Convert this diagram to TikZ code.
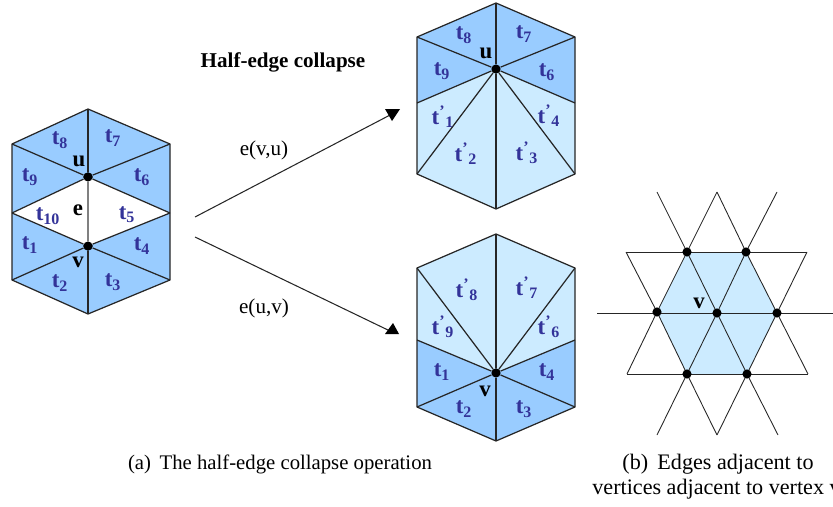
\documentclass[tikz,border=0pt]{standalone}
\usepackage{fontspec}
\setmainfont{Liberation Serif}
\usepackage{xcolor}
\usetikzlibrary{arrows.meta, positioning}
\definecolor{meshblue}{HTML}{99CCFF}
\definecolor{meshlight}{HTML}{CCEBFF}
\definecolor{labelblue}{HTML}{333399}
\newcommand{\tlab}[1]{\textbf{t}\textsubscript{\textbf{#1}}}
\newcommand{\tprm}[1]{\textbf{t}\textsuperscript{\textbf{'}}\textsubscript{\textbf{#1}}}

\begin{document}
\begin{tikzpicture}[x=0.02cm, y=-0.02cm,
    mesh/.style={draw=black!85, line width=0.7pt, line join=round},
    thin mesh/.style={draw=black!85, line width=0.5pt},
    vdot/.style={circle, fill=black, inner sep=0pt, minimum size=5.2pt},
    tri/.style={text=labelblue, font=\fontsize{13}{14}\selectfont, inner sep=0pt},
    vlab/.style={font=\fontsize{13}{14}\selectfont\bfseries, inner sep=0pt},
    plain/.style={font=\fontsize{12}{14}\selectfont, inner sep=0pt},
    link/.style={line width=0.6pt, black!85},
]
    \useasboundingbox (0,0) rectangle (833,507);

    % left hexagon
    \coordinate (la) at (88,109);
    \coordinate (lb) at (170,144);
    \coordinate (lc) at (170,213);
    \coordinate (ld) at (170,280);
    \coordinate (le) at (88,314);
    \coordinate (lf) at (12,280);
    \coordinate (lg) at (12,213);
    \coordinate (lh) at (12,144);
    \fill[meshblue] (la) -- (lb) -- (lc) -- (ld) -- (le) -- (lf) -- (lg) -- (lh) -- cycle;
    \node[vdot] (lu) at (88,177) {};
    \node[vdot] (lv) at (88,246) {};
    \fill[white] (lu.center) -- (lc) -- (lv.center) -- (lg) -- cycle;
    \draw[mesh] (la) -- (lb) -- (lc) -- (ld) -- (le) -- (lf) -- (lg) -- (lh) -- cycle;
    \foreach \p in {la,lb,lc,lg,lh} \draw[mesh] (lu) -- (\p);
    \foreach \p in {lc,ld,le,lf,lg} \draw[mesh] (lv) -- (\p);
    \draw[line width=0.9pt, black!50] (lu) -- (lv);
    \node[vdot] at (lu) {};
    \node[vdot] at (lv) {};
    \foreach \n/\x/\y in {8/60/140, 7/113/138, 9/30/177, 6/142/177, 10/48/216, 5/127/215,
                          1/30/245, 4/142/246, 2/60/283, 3/113/282}
        \node[tri] (lt\n) at (\x,\y) {\tlab{\n}};
    \node[vlab] (lulab) at (79,161) {u};
    \node[vlab] (lelab) at (78,210) {e};
    \node[vlab] (lvlab) at (78,262) {v};

    % upper right hexagon
    \coordinate (ua) at (496,3);
    \coordinate (ub) at (575,37);
    \coordinate (uc) at (575,103);
    \coordinate (ud) at (575,174);
    \coordinate (ue) at (496,209);
    \coordinate (uf) at (417,174);
    \coordinate (ug) at (417,103);
    \coordinate (uh) at (417,37);
    \fill[meshlight] (ua) -- (ub) -- (uc) -- (ud) -- (ue) -- (uf) -- (ug) -- (uh) -- cycle;
    \node[vdot] (uu) at (496,69) {};
    \fill[meshblue] (uu.center) -- (ug) -- (uh) -- (ua) -- (ub) -- (uc) -- cycle;
    \draw[mesh] (ua) -- (ub) -- (uc) -- (ud) -- (ue) -- (uf) -- (ug) -- (uh) -- cycle;
    \foreach \p in {ua,ub,uc,ud,ue,uf,ug,uh} \draw[mesh] (uu) -- (\p);
    \node[vdot] at (uu) {};
    \foreach \n/\x/\y in {8/464/35, 7/524/34, 9/442/71, 6/547/72}
        \node[tri] (ut\n) at (\x,\y) {\tlab{\n}};
    \foreach \n/\x/\y in {1/443/117, 4/549/116, 2/466/154, 3/527/153}
        \node[tri] (up\n) at (\x,\y) {\tprm{\n}};
    \node[vlab] (uulab) at (486,53) {u};

    % lower right hexagon
    \coordinate (wa) at (496,234);
    \coordinate (wb) at (575,268);
    \coordinate (wc) at (575,340);
    \coordinate (wd) at (575,407);
    \coordinate (we) at (496,441);
    \coordinate (wf) at (417,407);
    \coordinate (wg) at (417,340);
    \coordinate (wh) at (417,268);
    \fill[meshlight] (wa) -- (wb) -- (wc) -- (wd) -- (we) -- (wf) -- (wg) -- (wh) -- cycle;
    \node[vdot] (wv) at (496,373) {};
    \fill[meshblue] (wv.center) -- (wc) -- (wd) -- (we) -- (wf) -- (wg) -- cycle;
    \draw[mesh] (wa) -- (wb) -- (wc) -- (wd) -- (we) -- (wf) -- (wg) -- (wh) -- cycle;
    \foreach \p in {wa,wb,wc,wd,we,wf,wg,wh} \draw[mesh] (wv) -- (\p);
    \node[vdot] at (wv) {};
    \foreach \n/\x/\y in {1/442/372, 4/547/372, 2/464/409, 3/524/409}
        \node[tri] (wt\n) at (\x,\y) {\tlab{\n}};
    \foreach \n/\x/\y in {8/467/290, 7/527/288, 9/443/327, 6/549/327}
        \node[tri] (wp\n) at (\x,\y) {\tprm{\n}};
    \node[vlab] (wvlab) at (485,391) {v};

    % arrows, heads have a flat side
    \coordinate (upfrom) at (195,217);
    \coordinate (upto) at (392,114);
    \coordinate (downfrom) at (195,237);
    \coordinate (downto) at (390,331);
    \draw[link] (upfrom) -- (upto);
    \draw[link] (downfrom) -- (downto);
    \fill[black] (385,109) -- (400,109) -- (392,121) -- cycle;
    \fill[black] (385,334) -- (399,334) -- (393,323) -- cycle;
    \node[plain] (vulab) at (264,150) {e(v,u)};
    \node[plain] (uvlab) at (264,308) {e(u,v)};
    \node[plain, font=\fontsize{12}{14}\selectfont\bfseries] (title) at (283,62) {Half-edge collapse};

    % star around v
    \coordinate (sc) at (717,313);
    \coordinate (sa) at (687,252);
    \coordinate (sb) at (746,252);
    \coordinate (sl) at (657,312);
    \coordinate (sr) at (777,313);
    \coordinate (sd) at (687,374);
    \coordinate (se) at (747,374);
    \fill[meshlight] (sa) -- (sb) -- (sr) -- (se) -- (sd) -- (sl) -- cycle;
    \coordinate (top1) at (657,192);
    \coordinate (top2) at (717,192);
    \coordinate (top3) at (777,192);
    \coordinate (upl) at (626,252);
    \coordinate (upr) at (807,252);
    \coordinate (midl) at (597,313);
    \coordinate (midr) at (833,313);
    \coordinate (lowl) at (627,374);
    \coordinate (lowr) at (808,374);
    \coordinate (bot1) at (657,435);
    \coordinate (bot2) at (717,435);
    \coordinate (bot3) at (778,435);
    \draw[thin mesh] (top1) -- (sa) -- (sc) -- (se) -- (bot3);
    \draw[thin mesh] (top3) -- (sb) -- (sc) -- (sd) -- (bot1);
    \draw[thin mesh] (top2) -- (sa) -- (sl) -- (lowl);
    \draw[thin mesh] (top2) -- (sb) -- (sr) -- (lowr);
    \draw[thin mesh] (upl) -- (sl) -- (sd) -- (bot2);
    \draw[thin mesh] (upr) -- (sr) -- (se) -- (bot2);
    \draw[thin mesh] (upl) -- (upr);
    \draw[thin mesh] (midl) -- (midr);
    \draw[thin mesh] (lowl) -- (lowr);
    \foreach \p in {sc,sa,sb,sl,sr,sd,se} \node[vdot] (dot\p) at (\p) {};
    \node[vlab] (svlab) at (699,303) {v};

    % captions
    \node[plain, font=\fontsize{11.8}{14}\selectfont] (capa) at (280,464) {(a)\, The half-edge collapse operation};
    \node[plain, font=\fontsize{12.6}{14}\selectfont] (capb) at (718,464) {(b)\, Edges adjacent to};
    \node[plain, font=\fontsize{12.6}{14}\selectfont, anchor=west] (capc) at (592,489) {vertices adjacent to vertex v};
\end{tikzpicture}
\end{document}
